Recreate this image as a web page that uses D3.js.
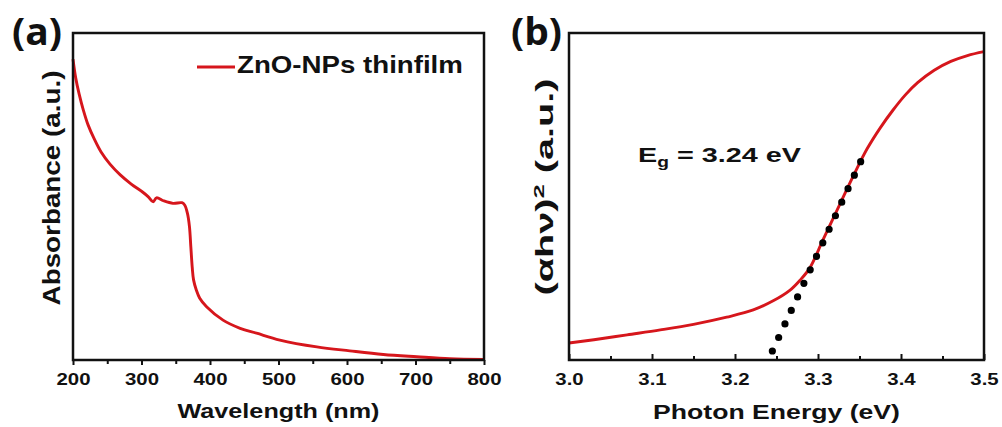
<!DOCTYPE html>
<html>
<head>
<meta charset="utf-8">
<script src="https://cdn.jsdelivr.net/npm/d3@7"></script>
<style>
  html, body { margin: 0; padding: 0; background: #fff; }
  svg { display: block; }
  text { font-family: "Liberation Sans", Arial, sans-serif; font-weight: bold; fill: #111; }
</style>
</head>
<body>
<svg id="chart" width="1002" height="427"></svg>
<script>
// ---------- Data ----------
// Panel (a): UV-vis absorbance
const waveNm = [200, 204, 209, 215, 222, 231, 241, 254, 269, 285, 302, 310, 317, 322, 332, 346, 359, 363, 367, 370, 372, 374, 376, 380, 385, 395, 419, 444, 468, 502, 556, 604, 653, 702, 750, 800];
const absorbance = [0.920, 0.862, 0.813, 0.765, 0.719, 0.676, 0.636, 0.599, 0.566, 0.538, 0.513, 0.499, 0.484, 0.496, 0.487, 0.479, 0.481, 0.474, 0.449, 0.408, 0.347, 0.285, 0.245, 0.214, 0.189, 0.163, 0.122, 0.097, 0.082, 0.061, 0.040, 0.028, 0.017, 0.010, 0.004, 0.002];
const waveTicks = [200, 300, 400, 500, 600, 700, 800];
const waveMinorTicks = [250, 350, 450, 550, 650, 750];

// Panel (b): Tauc plot
const photonEv = [3.000, 3.030, 3.070, 3.110, 3.150, 3.190, 3.222, 3.246, 3.266, 3.278, 3.290, 3.306, 3.327, 3.342, 3.359, 3.375, 3.390, 3.405, 3.420, 3.440, 3.460, 3.480, 3.500];
const taucValue = [0.052, 0.062, 0.077, 0.092, 0.109, 0.131, 0.153, 0.181, 0.213, 0.243, 0.281, 0.367, 0.480, 0.560, 0.645, 0.710, 0.763, 0.810, 0.848, 0.886, 0.913, 0.931, 0.943];
const fitEv = [3.245, 3.359];
const fitValue = [0.0275, 0.648];
const evTicks = [3.0, 3.1, 3.2, 3.3, 3.4, 3.5];
const evMinorTicks = [3.05, 3.15, 3.25, 3.35, 3.45];

const RED = "#d6161c";
const svg = d3.select("#chart");
svg.append("rect").attr("width", 1002).attr("height", 427).attr("fill", "#fff");

// place text and stretch it horizontally (in its own frame) to a target width
function placeText(sel, x, y, anchor, target, rotate) {
  sel.attr("x", 0).attr("y", 0).attr("text-anchor", anchor);
  const w = sel.node().getBBox().width;
  const s = target ? target / w : 1;
  sel.attr("transform", `translate(${x},${y})` + (rotate ? ` rotate(${rotate})` : "") + ` scale(${s},1)`);
  return sel;
}

function panel(opts) {
  const g = svg.append("g");
  const x = d3.scaleLinear().domain(opts.xDomain).range(opts.xRange);
  const y = d3.scaleLinear().domain([0, 1]).range([360, 33]);
  const [x0, x1] = opts.xRange;

  // curve
  const line = d3.line().x(d => x(d[0])).y(d => y(d[1])).curve(d3.curveCatmullRom.alpha(0.5));
  g.append("path")
    .datum(opts.xs.map((v, i) => [v, opts.ys[i]]))
    .attr("d", line).attr("fill", "none").attr("stroke", RED)
    .attr("stroke-width", 2.9).attr("stroke-linejoin", "round");

  // axis
  const major = d3.axisBottom(x).tickValues(opts.ticks).tickSizeOuter(0)
    .tickSize(opts.tickSize).tickPadding(opts.tickPad).tickFormat(opts.fmt);
  const minor = d3.axisBottom(x).tickValues(opts.minor).tickSizeOuter(0)
    .tickSize(opts.minorSize).tickFormat("");
  const ga = g.append("g").attr("transform", "translate(0,360)").call(major);
  const gm = g.append("g").attr("transform", "translate(0,360)").call(minor);
  [ga, gm].forEach(a => {
    a.select(".domain").remove();
    a.selectAll(".tick line").attr("stroke", "#111").attr("stroke-width", 2);
  });
  ga.selectAll(".tick text")
    .attr("font-size", 17).attr("font-family", '"Liberation Sans", Arial, sans-serif')
    .attr("font-weight", "bold").attr("fill", "#111")
    .attr("transform", "scale(1.2,1)");

  // frame
  g.append("rect").attr("x", x0).attr("y", 33).attr("width", x1 - x0).attr("height", 327)
    .attr("fill", "none").attr("stroke", "#111").attr("stroke-width", 2.5);

  return { g, x, y };
}

// ---------- Panel (a) ----------
const A = panel({
  xDomain: [200, 800], xRange: [73, 484], xs: waveNm, ys: absorbance,
  ticks: waveTicks, minor: waveMinorTicks, tickSize: 5, minorSize: 4, tickPad: 8,
  fmt: d3.format("d")
});

// legend
A.g.append("line").attr("x1", 197).attr("x2", 235).attr("y1", 67).attr("y2", 67)
  .attr("stroke", RED).attr("stroke-width", 3);
placeText(A.g.append("text").attr("font-size", 24).text("ZnO-NPs thinfilm"), 237, 73, "start", 226);

placeText(A.g.append("text").attr("font-size", 21).text("Wavelength (nm)"), 278.5, 418, "middle", 202);
placeText(A.g.append("text").attr("font-size", 24).text("Absorbance (a.u.)"), 60, 188, "middle", 235, -90);
placeText(svg.append("text").attr("font-size", 37)
  .style("font-family", '"Open Sans", sans-serif').attr("font-weight", "bold").text("(a)"), 12, 45, "start", 50);

// ---------- Panel (b) ----------
const B = panel({
  xDomain: [3.0, 3.5], xRange: [569, 984], xs: photonEv, ys: taucValue,
  ticks: evTicks, minor: evMinorTicks, tickSize: -6, minorSize: -4, tickPad: 13,
  fmt: d3.format(".1f")
});

// linear fit (dotted)
const fx = fitEv.map(B.x), fy = fitValue.map(B.y);
const fitLen = Math.hypot(fx[1] - fx[0], fy[1] - fy[0]);
B.g.append("line")
  .attr("x1", fx[0]).attr("y1", fy[0]).attr("x2", fx[1]).attr("y2", fy[1])
  .attr("stroke", "#000").attr("stroke-width", 7.2).attr("stroke-linecap", "round")
  .attr("stroke-dasharray", `0 ${fitLen / 15}`);

// Eg annotation
const eg = B.g.append("text").attr("font-size", 21);
eg.append("tspan").text("E");
eg.append("tspan").attr("font-size", 14).attr("dy", 5).text("g");
eg.append("tspan").attr("dy", -5).text(" = 3.24 eV");
placeText(eg, 638, 162, "start", 163);

placeText(B.g.append("text").attr("font-size", 21).text("Photon Energy (eV)"), 776.5, 419, "middle", 247);
const yl = B.g.append("text").attr("font-size", 23);
yl.append("tspan").text("(αhν)");
yl.append("tspan").attr("font-size", 15).attr("dy", -9).text("2");
yl.append("tspan").attr("dy", 9).text(" (a.u.)");
placeText(yl, 553, 187, "middle", 217, -90);
placeText(svg.append("text").attr("font-size", 37)
  .style("font-family", '"Open Sans", sans-serif').attr("font-weight", "bold").text("(b)"), 511, 45, "start", 51);
</script>
</body>
</html>
